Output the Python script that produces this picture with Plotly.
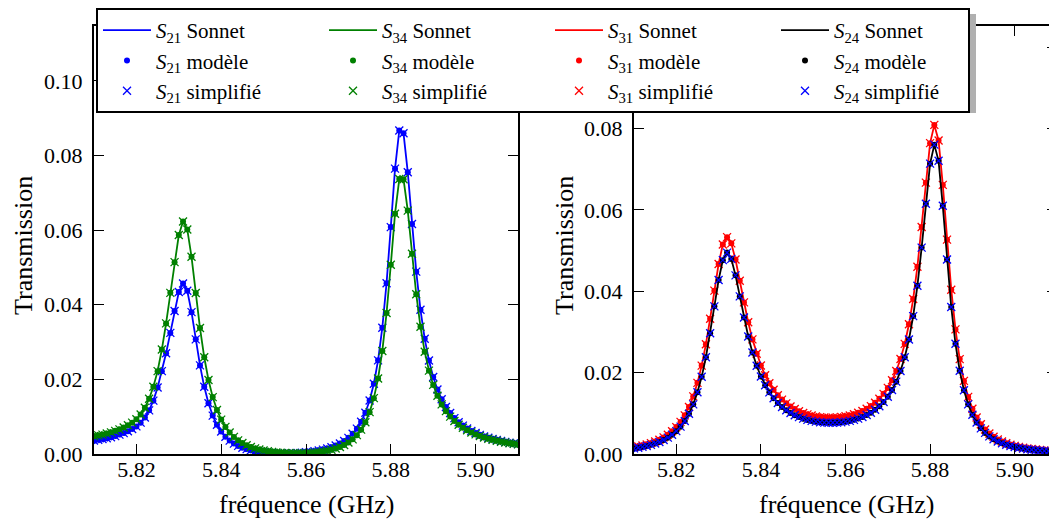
import plotly.graph_objects as go

# Frequency sweep (GHz), 1 MHz step
FREQ_GHZ = [round(5.810 + 0.001 * i, 3) for i in range(101)]

# Left panel
S21 = [0.00360, 0.00380, 0.00400, 0.00420, 0.00450, 0.00480, 0.00520, 0.00560, 0.00610, 0.00670,
       0.00740, 0.00840, 0.00980, 0.01170, 0.01430, 0.01780, 0.02220, 0.02700, 0.03245, 0.03834,
       0.04341, 0.04570, 0.04373, 0.03802, 0.03072, 0.02375, 0.01801, 0.01359, 0.01029, 0.00784,
       0.00601, 0.00464, 0.00359, 0.00279, 0.00217, 0.00169, 0.00131, 0.00101, 0.00077, 0.00059,
       0.00045, 0.00034, 0.00026, 0.00021, 0.00018, 0.00017, 0.00019, 0.00022, 0.00027, 0.00035,
       0.00045, 0.00058, 0.00074, 0.00094, 0.00118, 0.00147, 0.00182, 0.00226, 0.00281, 0.00348,
       0.00433, 0.00541, 0.00680, 0.00862, 0.01105, 0.01432, 0.01883, 0.02510, 0.03384, 0.04577,
       0.06081, 0.07647, 0.08670, 0.08594, 0.07552, 0.06166, 0.04887, 0.03865, 0.03087, 0.02504,
       0.02064, 0.01729, 0.01468, 0.01261, 0.01097, 0.00962, 0.00853, 0.00761, 0.00684, 0.00618,
       0.00562, 0.00513, 0.00471, 0.00434, 0.00402, 0.00373, 0.00347, 0.00324, 0.00303, 0.00285,
       0.00268]

S34 = [0.00480, 0.00500, 0.00520, 0.00550, 0.00580, 0.00620, 0.00660, 0.00710, 0.00770, 0.00840,
       0.00930, 0.01060, 0.01240, 0.01480, 0.01800, 0.02220, 0.02800, 0.03500, 0.04319, 0.05142,
       0.05869, 0.06232, 0.06018, 0.05285, 0.04316, 0.03376, 0.02592, 0.01984, 0.01525, 0.01181,
       0.00922, 0.00726, 0.00575, 0.00458, 0.00366, 0.00294, 0.00235, 0.00188, 0.00150, 0.00119,
       0.00094, 0.00074, 0.00057, 0.00044, 0.00034, 0.00027, 0.00022, 0.00019, 0.00018, 0.00020,
       0.00024, 0.00030, 0.00039, 0.00051, 0.00068, 0.00088, 0.00114, 0.00147, 0.00188, 0.00240,
       0.00307, 0.00393, 0.00505, 0.00653, 0.00852, 0.01122, 0.01497, 0.02023, 0.02761, 0.03777,
       0.05072, 0.06440, 0.07368, 0.07365, 0.06523, 0.05365, 0.04282, 0.03408, 0.02739, 0.02234,
       0.01852, 0.01559, 0.01329, 0.01148, 0.01002, 0.00883, 0.00785, 0.00703, 0.00635, 0.00576,
       0.00525, 0.00481, 0.00443, 0.00409, 0.00380, 0.00353, 0.00330, 0.00309, 0.00290, 0.00272,
       0.00257]

# Right panel
S31 = [0.00164, 0.00184, 0.00207, 0.00235, 0.00267, 0.00306, 0.00352, 0.00408, 0.00475, 0.00558,
       0.00661, 0.00789, 0.00950, 0.01155, 0.01416, 0.01749, 0.02173, 0.02699, 0.03325, 0.04015,
       0.04671, 0.05151, 0.05330, 0.05178, 0.04779, 0.04259, 0.03726, 0.03238, 0.02817, 0.02465,
       0.02175, 0.01936, 0.01741, 0.01579, 0.01446, 0.01337, 0.01245, 0.01168, 0.01105, 0.01052,
       0.01009, 0.00974, 0.00945, 0.00923, 0.00907, 0.00897, 0.00891, 0.00895, 0.00900, 0.00911,
       0.00926, 0.00948, 0.00976, 0.01012, 0.01056, 0.01111, 0.01177, 0.01258, 0.01357, 0.01478,
       0.01625, 0.01811, 0.02041, 0.02334, 0.02706, 0.03188, 0.03809, 0.04604, 0.05580, 0.06670,
       0.07641, 0.08089, 0.07705, 0.06614, 0.05269, 0.04039, 0.03063, 0.02332, 0.01797, 0.01404,
       0.01114, 0.00896, 0.00730, 0.00602, 0.00502, 0.00422, 0.00358, 0.00307, 0.00264, 0.00229,
       0.00200, 0.00175, 0.00155, 0.00137, 0.00122, 0.00109, 0.00097, 0.00088, 0.00079, 0.00071,
       0.00065]

S24 = [0.00138, 0.00155, 0.00175, 0.00198, 0.00225, 0.00258, 0.00297, 0.00345, 0.00402, 0.00473,
       0.00562, 0.00672, 0.00812, 0.00991, 0.01220, 0.01516, 0.01897, 0.02379, 0.02966, 0.03629,
       0.04277, 0.04765, 0.04950, 0.04796, 0.04391, 0.03874, 0.03355, 0.02890, 0.02495, 0.02170,
       0.01906, 0.01690, 0.01515, 0.01371, 0.01253, 0.01156, 0.01076, 0.01008, 0.00953, 0.00907,
       0.00869, 0.00838, 0.00814, 0.00795, 0.00781, 0.00772, 0.00768, 0.00767, 0.00772, 0.00781,
       0.00795, 0.00814, 0.00839, 0.00870, 0.00908, 0.00957, 0.01015, 0.01086, 0.01172, 0.01279,
       0.01409, 0.01573, 0.01778, 0.02040, 0.02376, 0.02815, 0.03389, 0.04134, 0.05073, 0.06149,
       0.07137, 0.07604, 0.07207, 0.06100, 0.04779, 0.03612, 0.02709, 0.02046, 0.01568, 0.01220,
       0.00965, 0.00775, 0.00630, 0.00519, 0.00433, 0.00364, 0.00309, 0.00264, 0.00227, 0.00197,
       0.00172, 0.00151, 0.00133, 0.00118, 0.00105, 0.00094, 0.00084, 0.00076, 0.00068, 0.00062,
       0.00056]

X_TICKS = [5.82, 5.84, 5.86, 5.88, 5.90]
X_TICK_TEXT = ["5.82", "5.84", "5.86", "5.88", "5.90"]
Y_TICKS = [0.00, 0.02, 0.04, 0.06, 0.08, 0.10]
Y_TICK_TEXT = ["0.00", "0.02", "0.04", "0.06", "0.08", "0.10"]
X_LABEL = "fréquence (GHz)"
Y_LABEL = "Transmission"
ROW_NAMES = ["Sonnet", "modèle", "simplifié"]

# The page body keeps its default 8 px margin, so the figure is 16 px smaller
# than the window and positions below are figure pixels.
W, H = 1049, 512
FONT = "Liberation Serif, Times New Roman, Tinos, serif"

# (subscript, values, line colour, simplified-marker colour, x axis, y axis, legend column)
SERIES = [
    ("21", S21, "#0000ff", "#0000ff", "x", "y", 0),
    ("34", S34, "#008000", "#008000", "x", "y", 1),
    ("31", S31, "#ff0000", "#ff0000", "x2", "y2", 2),
    ("24", S24, "#000000", "#0000ff", "x2", "y2", 3),
]

fig = go.Figure()
for sub, vals, col, xcol, xa, ya, lc in SERIES:
    lw = 129 if lc == 3 else None
    base = f"<i>S</i><sub>{sub}</sub> "
    fig.add_trace(go.Scatter(
        x=FREQ_GHZ, y=vals, mode="lines", name=base + ROW_NAMES[0],
        line=dict(color=col, width=1.8), xaxis=xa, yaxis=ya,
        legendrank=1 + lc, legendwidth=lw))
    fig.add_trace(go.Scatter(
        x=FREQ_GHZ, y=vals, mode="markers", name=base + ROW_NAMES[1],
        marker=dict(symbol="circle", size=6, color=col), xaxis=xa, yaxis=ya,
        legendrank=5 + lc, legendwidth=lw))
    fig.add_trace(go.Scatter(
        x=FREQ_GHZ, y=vals, mode="markers", name=base + ROW_NAMES[2],
        marker=dict(symbol="x-thin", size=8, color=xcol,
                    line=dict(color=xcol, width=1.3)),
        xaxis=xa, yaxis=ya, legendrank=9 + lc, legendwidth=lw))

tickfont = dict(family=FONT, size=22, color="black")
axis_common = dict(
    ticks="inside", ticklen=10, tickwidth=1.3, tickcolor="black",
    showline=True, linewidth=2, linecolor="black", mirror="ticks",
    showgrid=False, zeroline=False, tickfont=tickfont,
)

yd = [1 - 446 / H, 1 - 18 / H]
fig.update_layout(
    width=W, height=H,
    margin=dict(l=0, r=0, t=0, b=0, autoexpand=False),
    paper_bgcolor="white", plot_bgcolor="white",
    font=dict(family=FONT, color="black"),
    xaxis=dict(domain=[86 / W, 510 / W], range=[5.81, 5.91], anchor="y",
               tickvals=X_TICKS, ticktext=X_TICK_TEXT, ticklabelstandoff=-5, **axis_common),
    yaxis=dict(domain=yd, range=[0, 0.1147], anchor="x",
               tickvals=Y_TICKS, ticktext=Y_TICK_TEXT, ticklabelstandoff=5, **axis_common),
    xaxis2=dict(domain=[626 / W, 1.0], range=[5.81, 5.91], anchor="y2",
                tickvals=X_TICKS, ticktext=X_TICK_TEXT, ticklabelstandoff=-5, **axis_common),
    yaxis2=dict(domain=yd, range=[0, 0.1052], anchor="x2",
                tickvals=Y_TICKS, ticktext=Y_TICK_TEXT, ticklabelstandoff=5, **axis_common),
    showlegend=True,
    legend=dict(
        orientation="h", xref="paper", yref="paper",
        x=88 / W, xanchor="left", y=1.0, yanchor="top",
        bgcolor="white", bordercolor="black", borderwidth=2,
        font=dict(family=FONT, size=21, color="black"),
        entrywidth=163, entrywidthmode="pixels", itemwidth=48,
        traceorder="normal",
    ),
    shapes=[dict(type="rect", xref="paper", yref="paper", layer="above",
                 x0=93 / W, x1=968 / W, y0=1 - 105 / H, y1=1 - 6 / H,
                 fillcolor="#b0b0b0", line=dict(width=0))],
    annotations=[
        dict(text=X_LABEL, xref="paper", yref="paper", x=298 / W, y=1 - 496 / H,
             xanchor="center", yanchor="middle", showarrow=False,
             font=dict(family=FONT, size=26, color="black")),
        dict(text=X_LABEL, xref="paper", yref="paper", x=838 / W, y=1 - 496 / H,
             xanchor="center", yanchor="middle", showarrow=False,
             font=dict(family=FONT, size=26, color="black")),
        dict(text=Y_LABEL, xref="paper", yref="paper", x=15 / W, y=1 - 238 / H,
             xanchor="center", yanchor="middle", showarrow=False, textangle=-90,
             font=dict(family=FONT, size=26, color="black")),
        dict(text=Y_LABEL, xref="paper", yref="paper", x=556 / W, y=1 - 238 / H,
             xanchor="center", yanchor="middle", showarrow=False, textangle=-90,
             font=dict(family=FONT, size=26, color="black")),
    ],
)

fig.write_html("out.html")
